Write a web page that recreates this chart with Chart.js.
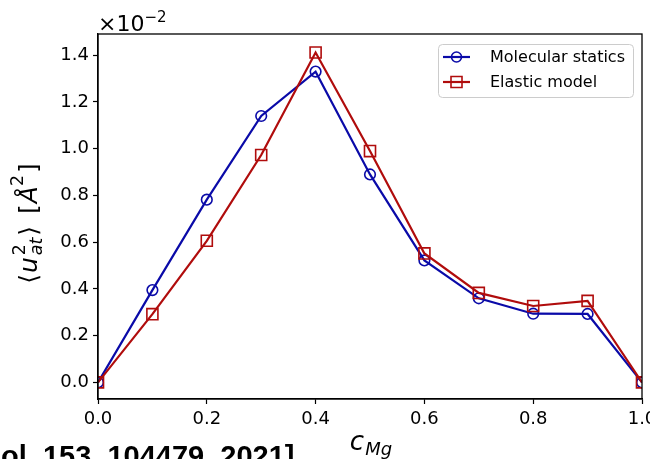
<!DOCTYPE html>
<html><head><meta charset="utf-8">
<script src="https://cdn.jsdelivr.net/npm/chart.js@4/dist/chart.umd.min.js"></script>
<style>
html,body{margin:0;padding:0;background:#fff;overflow:hidden;width:650px;height:459px}
#wrap{position:relative;width:650px;height:459px;overflow:hidden;background:#fff}
canvas{position:absolute;left:0;top:0}
</style></head>
<body><div id="wrap"><canvas id="c" width="700" height="459"></canvas></div>
<script>
// ---- data (values in units of 1e-2 Å^2) ----
const cMg = [0.0, 0.1, 0.2, 0.3, 0.4, 0.5, 0.6, 0.7, 0.8, 0.9, 1.0];
const molecularStatics = [0, 0.395, 0.782, 1.140, 1.330, 0.890, 0.522, 0.360, 0.294, 0.293, 0];
const elasticModel = [0, 0.292, 0.606, 0.973, 1.412, 0.990, 0.552, 0.383, 0.327, 0.349, 0];
const xTickValues = [0.0, 0.2, 0.4, 0.6, 0.8, 1.0];
const yTickValues = [0.0, 0.2, 0.4, 0.6, 0.8, 1.0, 1.2, 1.4];
const seriesNames = ['Molecular statics', 'Elastic model'];
const seriesColors = ['#0a0aa8', '#b00c0c'];

const FONT = '"DejaVu Sans", sans-serif';

function drawRich(ctx, parts, x0, y0) {
  let x = x0;
  for (const p of parts) {
    ctx.font = p.font;
    x += (p.pre || 0);
    ctx.fillText(p.t, x, y0 + (p.dy || 0));
    if (!p.noAdvance) x += ctx.measureText(p.t).width + (p.post || 0);
  }
}
function richWidth(ctx, parts) {
  let w = 0;
  for (const p of parts) {
    ctx.font = p.font;
    w += (p.pre || 0);
    if (!p.noAdvance) w += ctx.measureText(p.t).width + (p.post || 0);
  }
  return w;
}

const decor = {
  id: 'decor',
  afterDraw(chart) {
    const ctx = chart.ctx, a = chart.chartArea;
    ctx.save();
    // spines
    ctx.strokeStyle = '#000'; ctx.lineWidth = 1.3;
    ctx.strokeRect(a.left, a.top, a.right - a.left, a.bottom - a.top);

    // legend
    const lx = 438.5, ly = 44.5, lw = 195, lh = 53;
    ctx.beginPath();
    ctx.roundRect(lx, ly, lw, lh, 4);
    ctx.fillStyle = 'rgba(255,255,255,0.85)'; ctx.fill();
    ctx.strokeStyle = '#cccccc'; ctx.lineWidth = 1; ctx.stroke();
    chart.data.datasets.forEach((ds, i) => {
      const y = 57 + i * 25;
      ctx.strokeStyle = ds.borderColor; ctx.lineWidth = 2.2;
      ctx.beginPath(); ctx.moveTo(443, y); ctx.lineTo(470, y); ctx.stroke();
      ctx.lineWidth = 1.6;
      ctx.beginPath();
      if (ds.pointStyle === 'circle') ctx.arc(456.5, y, 5, 0, Math.PI * 2);
      else ctx.rect(456.5 - 5.5, y - 5.5, 11, 11);
      ctx.stroke();
      ctx.fillStyle = '#000'; ctx.font = '16px ' + FONT;
      ctx.textBaseline = 'middle'; ctx.textAlign = 'left';
      ctx.fillText(ds.label, 490, y + 1);
    });

    ctx.fillStyle = '#000';
    ctx.textBaseline = 'alphabetic'; ctx.textAlign = 'left';
    // offset multiplier
    drawRich(ctx, [
      {t: '\u00d710', font: '22px ' + FONT},
      {t: '\u22122', font: '15px ' + FONT, dy: -9}
    ], 98, 31);

    // x label c_Mg
    const xl = [
      {t: 'c', font: 'italic 26px ' + FONT, post: 1},
      {t: 'Mg', font: 'italic 18px ' + FONT, dy: 5}
    ];
    const xw = richWidth(ctx, xl);
    drawRich(ctx, xl, (a.left + a.right) / 2 - xw / 2 + 1, 450);

    // y label <u^2_at> [Å^2]
    ctx.save();
    ctx.translate(37, 223.5);
    ctx.rotate(-Math.PI / 2);
    const big = '25px ' + FONT, bigI = 'italic 25px ' + FONT;
    const sm = '17.5px ' + FONT, smI = 'italic 17.5px ' + FONT;
    const yl = [
      {t: '\u27e8', font: big, post: 1},
      {t: 'u', font: bigI, post: 1},
      {t: '2', font: sm, dy: -12, noAdvance: true, pre: 1},
      {t: 'at', font: smI, dy: 5, post: 2},
      {t: '\u27e9', font: big, post: 1},
      {t: ' [', font: big, pre: 3, post: 1},
      {t: '\u00c5', font: bigI, post: 0},
      {t: '2', font: sm, dy: -14, post: 2},
      {t: ']', font: big}
    ];
    const yw = richWidth(ctx, yl);
    drawRich(ctx, yl, -yw / 2, 0);
    ctx.restore();

    // citation fragment
    ctx.font = 'bold 29px "Liberation Sans", Arial, sans-serif';
    ctx.fillText('ol. 153, 104479, 2021]', 1, 466);
    ctx.restore();
  }
};

const mk = (xs, ys) => xs.map((x, i) => ({x, y: ys[i]}));

new Chart(document.getElementById('c'), {
  type: 'line',
  data: {
    datasets: [
      {label: seriesNames[0], data: mk(cMg, molecularStatics), borderColor: seriesColors[0],
       borderWidth: 2.2, pointStyle: 'circle', pointRadius: 5.3, pointBorderWidth: 1.6,
       pointBackgroundColor: 'rgba(0,0,0,0)', pointBorderColor: seriesColors[0], clip: 0, order: 1, tension: 0},
      {label: seriesNames[1], data: mk(cMg, elasticModel), borderColor: seriesColors[1],
       borderWidth: 2.2, pointStyle: 'rect', pointRadius: 7.8, pointBorderWidth: 1.6,
       pointBackgroundColor: 'rgba(0,0,0,0)', pointBorderColor: seriesColors[1], clip: 0, order: 0, tension: 0}
    ]
  },
  options: {
    responsive: false, animation: false, devicePixelRatio: 1,
    layout: {padding: {left: 0, right: 58, top: 34, bottom: 0}},
    plugins: {legend: {display: false}, tooltip: {enabled: false}},
    scales: {
      x: {
        type: 'linear', min: 0, max: 1,
        afterBuildTicks: s => { s.ticks = xTickValues.map(v => ({value: v})); },
        afterFit: s => { s.height = 60; },
        ticks: {callback: v => v.toFixed(1), font: {family: FONT, size: 18}, color: '#000',
                padding: 5, maxRotation: 0, autoSkip: false},
        grid: {drawOnChartArea: false, tickLength: 5, tickColor: '#000', tickWidth: 1.2},
        border: {color: '#000', width: 1.3}
      },
      y: {
        type: 'linear', min: -0.071, max: 1.491,
        afterBuildTicks: s => { s.ticks = yTickValues.map(v => ({value: v})); },
        afterFit: s => { s.width = 98; },
        ticks: {callback: v => v.toFixed(1), font: {family: FONT, size: 18}, color: '#000',
                padding: 4, autoSkip: false},
        grid: {drawOnChartArea: false, tickLength: 5, tickColor: '#000', tickWidth: 1.2},
        border: {color: '#000', width: 1.3}
      }
    }
  },
  plugins: [decor]
});
</script>
</body></html>
